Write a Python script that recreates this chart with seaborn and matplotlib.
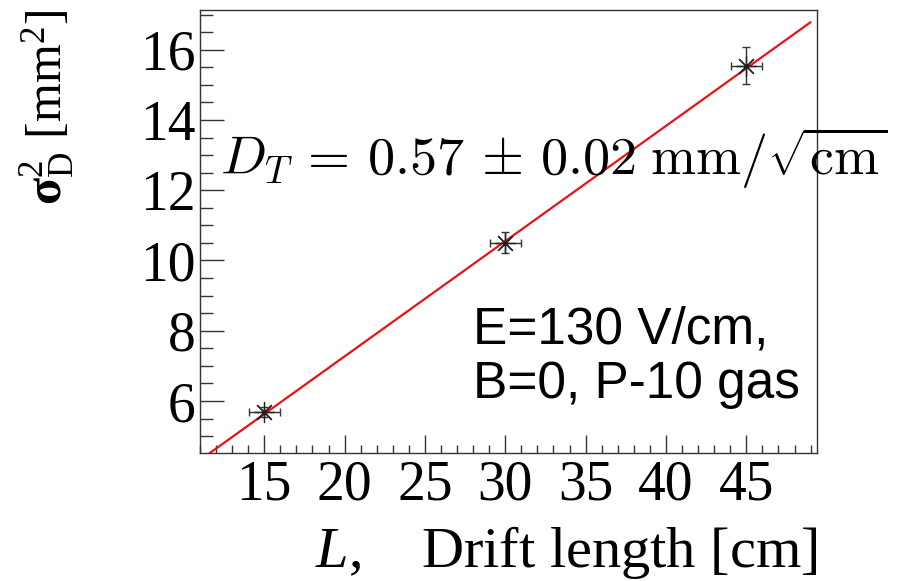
import numpy as np
import pandas as pd
import matplotlib
matplotlib.use('Agg')
import matplotlib.pyplot as plt
from matplotlib.ticker import MultipleLocator
import seaborn as sns

# data
drift_length = [15, 30, 45]
sigma2 = [5.69, 10.51, 15.55]
x_err = [0.95, 0.95, 0.95]
y_err = [0.15, 0.31, 0.54]

# linear fit (slope ~ D_T^2)
fit_slope = 0.328
fit_intercept = 0.71
fit_range = [11.0, 49.0]

sns.set_style('ticks')
plt.rcParams['font.family'] = ['Liberation Serif', 'DejaVu Serif']
plt.rcParams['mathtext.fontset'] = 'custom'
plt.rcParams['mathtext.rm'] = 'Liberation Serif'
plt.rcParams['mathtext.it'] = 'Liberation Serif:italic'
plt.rcParams['mathtext.bf'] = 'Liberation Serif:bold'
plt.rcParams['text.color'] = 'black'
plt.rcParams['axes.labelcolor'] = 'black'

fig = plt.figure(figsize=(8.99, 5.81), dpi=100)
ax = fig.add_axes([200/899, 1 - 453/581, 617/899, 443/581])

df = pd.DataFrame({'L': drift_length, 's2': sigma2})
fit_df = pd.DataFrame({'L': fit_range,
                       's2': [fit_intercept + fit_slope * v for v in fit_range]})

sns.lineplot(data=fit_df, x='L', y='s2', ax=ax, color='#ee1111', linewidth=1.6)
ax.errorbar(drift_length, sigma2, xerr=x_err, yerr=y_err, fmt='none',
            ecolor='#333333', elinewidth=1.0, capsize=3, capthick=1.0)
sns.scatterplot(data=df, x='L', y='s2', ax=ax, marker=(8, 2, 0), s=210,
                color='#222222', linewidth=0.9, zorder=5)

ax.set_xlim(11.0, 49.4)
ax.set_ylim(4.52, 17.13)
ax.xaxis.set_major_locator(MultipleLocator(5))
ax.xaxis.set_minor_locator(MultipleLocator(1))
ax.yaxis.set_major_locator(MultipleLocator(2))
ax.yaxis.set_minor_locator(MultipleLocator(0.5))
ax.set_xticks([15, 20, 25, 30, 35, 40, 45])

ax.tick_params(axis='both', which='both', direction='in', colors='#333333',
               labelcolor='black', labelsize=40, width=1.0)
ax.tick_params(axis='x', which='major', length=13, pad=5)
ax.tick_params(axis='x', which='minor', length=6)
ax.tick_params(axis='y', which='major', length=17, pad=3)
ax.tick_params(axis='y', which='minor', length=9)
for s in ax.spines.values():
    s.set_color('#333333')
    s.set_linewidth(1.0)

ax.set_xlabel(r'$L$,    Drift length [cm]', fontsize=42, loc='right')
ax.xaxis.label.set_va('baseline')
ax.xaxis.set_label_coords(1.0, -0.257)
ax.set_ylabel(r'$\mathbf{\sigma}^{2}_{\rm D}$ [mm$^{2}$]', fontsize=36, loc='top')
ax.yaxis.set_label_coords(-0.2, 1.0)

ax.text(0.032, 0.6275,
        r'$D_T\,=\,0.57\,\pm\,0.02\;\mathrm{mm}/\sqrt{\mathrm{cm}}$',
        transform=ax.transAxes, fontsize=39, math_fontfamily='cm',
        va='baseline', ha='left', clip_on=False)
ax.text(0.4425, 0.248, 'E=130 V/cm,', transform=ax.transAxes,
        fontsize=37, family='Liberation Sans', va='baseline')
ax.text(0.4425, 0.124, 'B=0, P-10 gas', transform=ax.transAxes,
        fontsize=37, family='Liberation Sans', va='baseline')

fig.savefig('out.png', dpi=100)
